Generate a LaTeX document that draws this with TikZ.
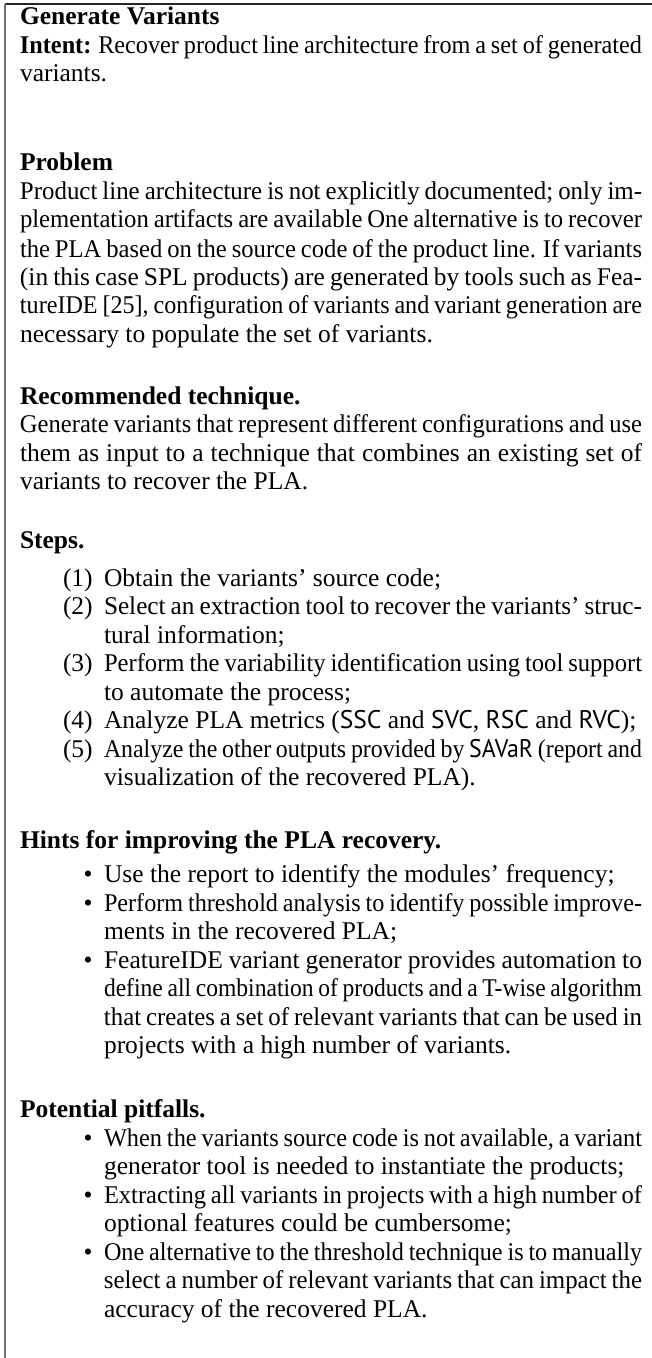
\documentclass[tikz,border=0pt]{standalone}
\usepackage{fontspec}
\usepackage{graphicx}
\setmainfont{Liberation Serif}
\setsansfont{PT Sans}
\newlength{\fullw}\setlength{\fullw}{248.8pt}
\newlength{\itemw}\setlength{\itemw}{215.2pt}
\newlength{\jnat}
\newsavebox{\jbox}
\newcommand{\jline}[2]{%
  \sbox{\jbox}{\spaceskip=0.2em plus 0.6em\relax #2}%
  \setlength{\jnat}{\wd\jbox}%
  \ifdim\jnat>#1\relax
    \pgfmathsetmacro{\jfac}{#1/\jnat}%
    \scalebox{\jfac}[1]{\usebox{\jbox}}%
  \else
    \makebox[#1][s]{\spaceskip=0.2em plus 0.6em\relax #2}%
  \fi}
\newcommand{\jfull}[1]{\jline{\fullw}{#1}}
\newcommand{\jitem}[1]{\jline{\itemw}{#1}}
\begin{document}
\begin{tikzpicture}[x=0.4pt,y=-0.4pt,
  ln/.style={inner sep=0pt,outer sep=0pt,anchor=base west,font=\fontsize{10.2}{12}\selectfont},
  lab/.style={ln},
  bul/.style={inner sep=0pt,outer sep=0pt,anchor=base,font=\fontsize{10.2}{12}\selectfont},
  topline/.style={draw=black!85,line width=0.5pt},
  sideline/.style={draw=black!55,line width=0.6pt}]
\useasboundingbox (0,0) rectangle (652,1358);
\draw[topline] (5,4) -- (652,4);
\draw[sideline] (5,4) -- (5,1358);
% header
\node[ln] (l1) at (20,25) {\bfseries Generate Variants};
\node[ln] (l2) at (20,54) {\jfull{\textbf{Intent:} Recover product line architecture from a set of generated}};
\node[ln] (l3) at (20,82) {variants.};
% problem
\node[ln] (l4) at (20,171) {\bfseries Problem};
\node[ln] (l5) at (20,200) {\jfull{Product line architecture is not explicitly documented; only im-}};
\node[ln] (l6) at (20,228) {\jfull{plementation artifacts are available One alternative is to recover}};
\node[ln] (l7) at (20,257) {\jfull{the PLA based on the source code of the product line. If variants}};
\node[ln] (l8) at (20,285) {\jfull{(in this case SPL products) are generated by tools such as Fea-}};
\node[ln] (l9) at (20,314) {\jfull{tureIDE [25], configuration of variants and variant generation are}};
\node[ln] (l10) at (20,342) {necessary to populate the set of variants.};
% recommended
\node[ln] (l11) at (20,404) {\bfseries Recommended technique.};
\node[ln] (l12) at (20,432) {\jfull{Generate variants that represent different configurations and use}};
\node[ln] (l13) at (20,461) {\jfull{them as input to a technique that combines an existing set of}};
\node[ln] (l14) at (20,489) {variants to recover the PLA.};
% steps
\node[ln] (l15) at (20,548) {\bfseries Steps.};
\node[lab] (n1) at (63,586) {(1)};
\node[ln] (l16) at (104,586) {Obtain the variants’ source code;};
\node[lab] (n2) at (63,614) {(2)};
\node[ln] (l17) at (104,614) {\jitem{Select an extraction tool to recover the variants’ struc-}};
\node[ln] (l18) at (104,643) {tural information;};
\node[lab] (n3) at (63,671) {(3)};
\node[ln] (l19) at (104,671) {\jitem{Perform the variability identification using tool support}};
\node[ln] (l20) at (104,700) {to automate the process;};
\node[lab] (n4) at (63,728) {(4)};
\node[ln] (l21) at (104,728) {Analyze PLA metrics (\textsf{SSC} and \textsf{SVC}, \textsf{RSC} and \textsf{RVC});};
\node[lab] (n5) at (63,757) {(5)};
\node[ln] (l22) at (104,757) {\jitem{Analyze the other outputs provided by \textsf{SAVaR} (report and}};
\node[ln] (l23) at (104,785) {visualization of the recovered PLA).};
% hints
\node[ln] (l24) at (20,848) {\bfseries Hints for improving the PLA recovery.};
\node[bul] (b1) at (88,882) {\textbullet};
\node[ln] (l25) at (104,882) {Use the report to identify the modules’ frequency;};
\node[bul] (b2) at (88,911) {\textbullet};
\node[ln] (l26) at (104,911) {\jitem{Perform threshold analysis to identify possible improve-}};
\node[ln] (l27) at (104,939) {ments in the recovered PLA;};
\node[bul] (b3) at (88,968) {\textbullet};
\node[ln] (l28) at (104,968) {\jitem{FeatureIDE variant generator provides automation to}};
\node[ln] (l29) at (104,996) {\jitem{define all combination of products and a T-wise algorithm}};
\node[ln] (l30) at (104,1025) {\jitem{that creates a set of relevant variants that can be used in}};
\node[ln] (l31) at (104,1053) {projects with a high number of variants.};
% pitfalls
\node[ln] (l32) at (20,1117) {\bfseries Potential pitfalls.};
\node[bul] (b4) at (88,1146) {\textbullet};
\node[ln] (l33) at (104,1146) {\jitem{When the variants source code is not available, a variant}};
\node[ln] (l34) at (104,1174) {generator tool is needed to instantiate the products;};
\node[bul] (b5) at (88,1203) {\textbullet};
\node[ln] (l35) at (104,1203) {\jitem{Extracting all variants in projects with a high number of}};
\node[ln] (l36) at (104,1231) {optional features could be cumbersome;};
\node[bul] (b6) at (88,1260) {\textbullet};
\node[ln] (l37) at (104,1260) {\jitem{One alternative to the threshold technique is to manually}};
\node[ln] (l38) at (104,1288) {\jitem{select a number of relevant variants that can impact the}};
\node[ln] (l39) at (104,1317) {accuracy of the recovered PLA.};
\end{tikzpicture}
\end{document}
